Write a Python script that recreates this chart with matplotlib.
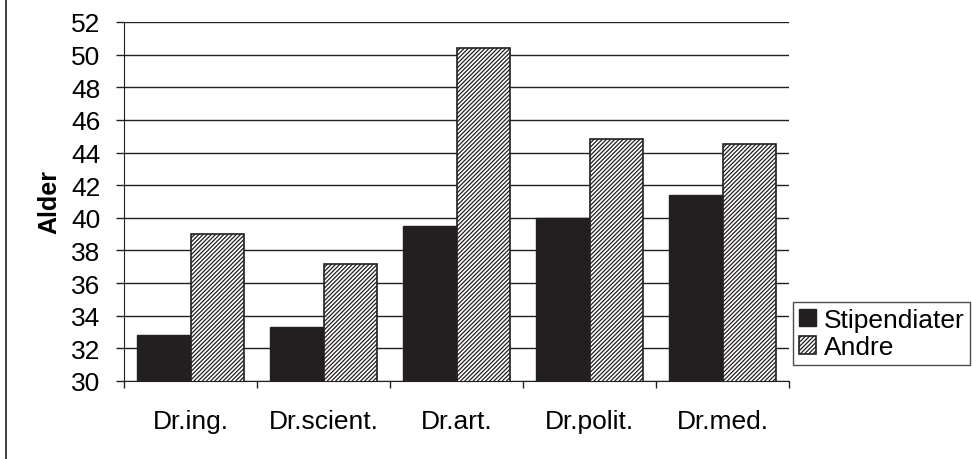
import matplotlib.pyplot as plt
import numpy as np
from matplotlib.lines import Line2D

categories = ['Dr.ing.', 'Dr.scient.', 'Dr.art.', 'Dr.polit.', 'Dr.med.']
stipendiater = [32.8, 33.3, 39.5, 40.0, 41.4]
andre = [39.0, 37.2, 50.4, 44.8, 44.5]

plt.rcParams['font.family'] = ['Liberation Sans', 'DejaVu Sans']
plt.rcParams['hatch.linewidth'] = 0.9

fig = plt.figure(figsize=(9.72, 4.6), dpi=100)
ax = fig.add_axes([124 / 972, 1 - 382 / 460, 665 / 972, 359 / 460])

x = np.arange(len(categories))
w = 0.4
ax.bar(x - w / 2, stipendiater, w, color='#231f20', edgecolor='#231f20',
       linewidth=1, label='Stipendiater', zorder=3)
ax.bar(x + w / 2, andre, w, color='white', edgecolor='#231f20',
       hatch='////////', linewidth=1.2, label='Andre', zorder=3)

ax.set_ylim(30, 52)
ax.set_yticks(range(30, 53, 2))
ax.set_xlim(-0.5, len(categories) - 0.5)
ax.yaxis.grid(True, color='#231f20', linewidth=1)
ax.set_axisbelow(True)

ax.set_xticks(x)
ax.set_xticklabels(categories, fontsize=19)
ax.set_xticks(np.arange(-0.5, len(categories)), minor=True)
ax.tick_params(axis='x', which='major', length=0, pad=20)
ax.tick_params(axis='x', which='minor', length=5, width=1, color='#231f20')
ax.tick_params(axis='y', length=6, width=1, pad=11, labelsize=19, color='#231f20')

for side in ['top', 'right']:
    ax.spines[side].set_visible(False)
ax.spines['left'].set_color('#231f20')
ax.spines['bottom'].set_color('#231f20')

ax.set_ylabel('Alder', fontsize=18, fontweight='bold', labelpad=7)

leg = ax.legend(loc='upper left', bbox_to_anchor=(793 / 972, 1 - 303 / 460),
                bbox_transform=fig.transFigure, fontsize=19, frameon=True,
                fancybox=False, edgecolor='#231f20', handlelength=0.65,
                handleheight=0.65, handletextpad=0.3, borderpad=0.22,
                labelspacing=0.12, borderaxespad=0)
leg.get_frame().set_linewidth(1)

fig.add_artist(Line2D([6 / 972, 6 / 972], [0, 1], color='#231f20',
                      linewidth=1.2, transform=fig.transFigure))

fig.savefig('out.png', dpi=100)
